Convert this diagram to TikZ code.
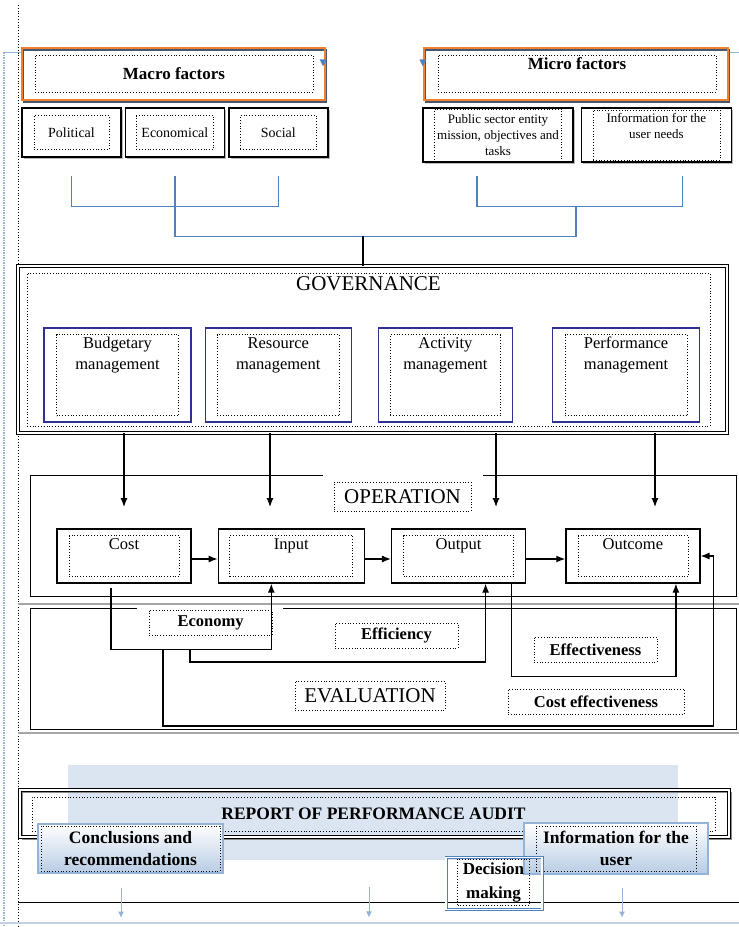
\documentclass[tikz,border=0pt]{standalone}
\usepackage{fontspec}
\setmainfont{Liberation Serif}
\usetikzlibrary{positioning, arrows.meta, shadows}

\definecolor{orangeline}{RGB}{240,128,48}
\definecolor{slate}{RGB}{70,88,112}
\definecolor{linkblue}{RGB}{79,129,189}
\definecolor{mgmtblue}{RGB}{46,49,146}
\definecolor{paleblue}{RGB}{219,229,241}
\definecolor{gradblue}{RGB}{184,204,228}
\definecolor{gradline}{RGB}{149,179,215}
\definecolor{rulegrey}{RGB}{165,165,165}

\tikzset{
  factorbox/.style={draw=orangeline, line width=1.3pt,
    general shadow={draw=slate, line width=1.3pt, shadow xshift=1.5pt, shadow yshift=-2pt}},
  outbox/.style={draw, line width=1.4pt, fill=white,
    drop shadow={shadow xshift=2pt, shadow yshift=-2pt, fill=black!45, opacity=0.6}},
  opbox/.style={draw, line width=1.3pt, fill=white},
  mgmtbox/.style={draw=mgmtblue, line width=1.2pt},
  dotbox/.style={draw, dotted, line width=0.8pt, align=center, inner sep=0pt},
  toptext/.style={anchor=north, inner sep=3pt, align=center},
  gradbox/.style={draw=gradline, line width=1.2pt, top color=white, bottom color=gradblue},
  link/.style={draw=linkblue, line width=1.4pt},
  conn/.style={line width=1.2pt},
  flow/.style={line width=1.2pt, -{Latex[length=9pt,width=7pt]}},
  paleflow/.style={draw=gradline, line width=0.8pt, -{Latex[length=6pt,width=6pt]}},
  headfont/.style={font=\bfseries\fontsize{17}{20}\selectfont},
  titlefont/.style={font=\fontsize{21}{24}\selectfont},
  smallfont/.style={font=\fontsize{14}{17}\selectfont},
  tinyfont/.style={font=\fontsize{13}{16}\selectfont},
  midfont/.style={font=\fontsize{16.5}{21}\selectfont},
  evfont/.style={font=\bfseries\fontsize{16.5}{20}\selectfont},
  repfont/.style={font=\bfseries\fontsize{17.5}{22}\selectfont},
}

\begin{document}
\begin{tikzpicture}[x=1pt, y=-1pt]
\useasboundingbox (0,0) rectangle (739,927);

% page rules
\draw[dotted, line width=0.8pt] (18,5) -- (18,927);
\draw[gradline, densely dotted, line width=1.5pt] (4,52) -- (4,927);
\draw[gradline] (3,52) -- (22,52);
\draw[gradline] (728,52) -- (739,52);
\draw[rulegrey, line width=1.2pt] (18,604) -- (739,604);
\draw[rulegrey, line width=1.2pt] (18,733) -- (739,733);
\draw[gradline!60, line width=1.2pt] (0,923) -- (739,923);

% factors
\node[factorbox, minimum width=303pt, minimum height=52pt] (macro) at (173.5,74) {};
\node[dotbox, minimum width=278pt, minimum height=37pt, headfont] (macrot) at (174,73.5) {Macro factors};
\node[factorbox, minimum width=304pt, minimum height=52pt] (micro) at (576,74) {};
\node[dotbox, minimum width=278pt, minimum height=37pt, label={[toptext, headfont]north:Micro factors}] (microt) at (577,73.5) {};
\fill[linkblue] ([xshift=-6pt,yshift=-12pt]macro.north east) -- ++(7,0) -- ++(-3.5,7) -- cycle;
\fill[linkblue] ([xshift=-4pt,yshift=-12pt]micro.north west) -- ++(7,0) -- ++(-3.5,7) -- cycle;

\node[outbox, minimum width=99pt, minimum height=49pt] (pol) at (71.5,132.5) {};
\node[outbox, minimum width=99pt, minimum height=49pt, right=3pt of pol] (eco) {};
\node[outbox, minimum width=99pt, minimum height=49pt, right=3pt of eco] (soc) {};
\node[dotbox, minimum width=75pt, minimum height=34pt, smallfont] (polt) at (pol) {Political};
\node[dotbox, minimum width=77pt, minimum height=34pt, smallfont] (ecot) at (eco) {Economical};
\node[dotbox, minimum width=76pt, minimum height=34pt, smallfont] (soct) at (soc) {Social};

\node[outbox, minimum width=150pt, minimum height=54pt] (pub) at (498,135) {};
\node[outbox, minimum width=150pt, minimum height=54pt, right=7pt of pub] (info) {};
\node[dotbox, minimum width=127pt, minimum height=52pt, tinyfont] (pubt) at (pub) {Public sector entity\\mission, objectives and\\tasks};
\node[dotbox, minimum width=127pt, minimum height=50pt, label={[toptext, tinyfont, inner sep=4pt]north:Information for the\\user needs}] (infot) at (info) {};

\draw[link] ([yshift=-18pt]pol.south) -- ++(0,31) -| ([yshift=-18pt]soc.south);
\draw[link] ([xshift=-21pt,yshift=-13pt]pub.south) -- ++(0,31) -| ([xshift=26pt,yshift=-13pt]info.south);
\draw[link] ([yshift=-18pt]eco.south) |- ([xshift=78pt,yshift=-74pt]pub.south) -- ++(0,-30);
\coordinate (join) at (363,236);

% governance
\node[draw, double, double distance=1.6pt, line width=0.8pt, minimum width=709pt, minimum height=167pt] (gov) at (372.5,349.5) {};
\node[dotbox, minimum width=683pt, minimum height=153pt, label={[toptext, inner sep=4pt, titlefont]north:GOVERNANCE}] (govt) at (368.5,349.5) {};
\draw[conn] (join) -- (join |- gov.north);

\node[mgmtbox, minimum width=147pt, minimum height=94pt] (bud) at (117.5,375) {};
\node[mgmtbox, minimum width=146pt, minimum height=94pt, right=13pt of bud] (res) {};
\node[mgmtbox, minimum width=134pt, minimum height=94pt, right=26pt of res] (act) {};
\node[mgmtbox, minimum width=147pt, minimum height=94pt, right=39pt of act] (perf) {};
\node[dotbox, minimum width=122pt, minimum height=81pt, label={[toptext, midfont]north:Budgetary\\management}] (budt) at (bud) {};
\node[dotbox, minimum width=122pt, minimum height=81pt, label={[toptext, midfont]north:Resource\\management}] (rest) at (res) {};
\node[dotbox, minimum width=110pt, minimum height=81pt, label={[toptext, midfont]north:Activity\\management}] (actt) at (act) {};
\node[dotbox, minimum width=122pt, minimum height=81pt, label={[toptext, midfont]north:Performance\\management}] (perft) at (perf) {};

% operation
\coordinate (a1) at (124,507);
\coordinate (a2) at (270,507);
\coordinate (a3) at (496,507);
\coordinate (a4) at (655,507);
\path[flow] (a1 |- gov.south) edge (a1)
            (a2 |- gov.south) edge (a2)
            (a3 |- gov.south) edge (a3)
            (a4 |- gov.south) edge (a4);

\node[minimum width=705pt, minimum height=120pt] (op) at (383.5,536) {};
\draw[conn] ([xshift=292pt]op.north west) -- (op.north west) -- (op.south west)
  -- (op.south east) -- (op.north east) -- ([xshift=-253pt]op.north east);
\node[dotbox, minimum width=137pt, minimum height=29pt, titlefont] (opt) at (402.5,496.5) {OPERATION};

\node[opbox, minimum width=134pt, minimum height=54pt] (cost) at (124,556) {};
\node[opbox, minimum width=146pt, minimum height=54pt, right=26pt of cost] (inp) {};
\node[opbox, minimum width=134pt, minimum height=54pt, right=26pt of inp] (outp) {};
\node[opbox, minimum width=134pt, minimum height=54pt, right=39pt of outp] (outc) {};
\node[dotbox, minimum width=110pt, minimum height=41pt, label={[toptext, midfont]north:Cost}] (costt) at (cost) {};
\node[dotbox, minimum width=123pt, minimum height=41pt, label={[toptext, midfont]north:Input}] (inpt) at (inp) {};
\node[dotbox, minimum width=110pt, minimum height=41pt, label={[toptext, midfont]north:Output}] (outpt) at (outp) {};
\node[dotbox, minimum width=110pt, minimum height=41pt, label={[toptext, midfont]north:Outcome}] (outct) at (outc) {};

\path[flow] ([yshift=-3pt]cost.east) edge ([yshift=-3pt]inp.west)
            ([yshift=-3pt]inp.east) edge ([yshift=-3pt]outp.west)
            ([yshift=-3pt]outp.east) edge ([yshift=-3pt]outc.west);

% evaluation
\node[minimum width=705pt, minimum height=120pt] (ev) at (383.5,669) {};
\draw[conn] ([xshift=106pt]ev.north west) -- (ev.north west) -- (ev.south west)
  -- (ev.south east) -- (ev.north east) -- ([xshift=-453pt]ev.north east);

\node[dotbox, minimum width=123pt, minimum height=25pt, evfont] (econ) at (210.5,622.5) {Economy};
\node[dotbox, minimum width=123pt, minimum height=25pt, evfont] (effi) at (396.5,635.5) {Efficiency};
\node[dotbox, minimum width=123pt, minimum height=25pt, evfont] (effe) at (595.5,649.5) {Effectiveness};
\node[dotbox, minimum width=150pt, minimum height=29pt, titlefont] (evt) at (370,695.5) {EVALUATION};
\node[dotbox, minimum width=176pt, minimum height=25pt, evfont] (costeff) at (596,701.5) {Cost effectiveness};

\coordinate (ec) at (163,649);
\coordinate (ef) at (190,649);
\draw[flow] ([xshift=-13pt,yshift=-4pt]cost.south) -- ++(0,62) -| ([xshift=-20pt]inp.south);
\draw[flow] (ef) -- ++(0,13) -| ([xshift=27pt]outp.south);
\draw[flow] ([xshift=53pt]outp.south) -- ++(0,93) -| ([xshift=43pt]outc.south);
\draw[flow] (ec) -- ++(0,77) -| ([xshift=13pt]outc.east) -- (outc.east);

% report
\fill[paleblue] (68,765) rectangle (678,860);
\node[draw, double, double distance=1.6pt, line width=0.8pt, minimum width=709pt, minimum height=47pt,
  general shadow={draw=black!45, line width=1pt, shadow xshift=2pt, shadow yshift=-2pt}] (rep) at (374.5,813.5) {};
\node[dotbox, minimum width=683pt, minimum height=34pt, repfont] (rept) at (373.5,814) {REPORT OF PERFORMANCE AUDIT};

\draw[line width=1pt] (18,902) -- (739,902);

\node[gradbox, minimum width=185pt, minimum height=49pt] (concl) at (130.5,848.5) {};
\node[dotbox, minimum width=179pt, minimum height=45pt, repfont] (conclt) at (concl) {Conclusions and\\recommendations};
\node[gradbox, minimum width=184pt, minimum height=51pt] (user) at (616,848.5) {};
\node[dotbox, minimum width=160pt, minimum height=45pt, repfont] (usert) at (user) {Information for the\\user};
\node[draw=linkblue, double=white, double distance=1.2pt, line width=0.9pt, minimum width=96pt, minimum height=52pt] (dec) at (494,883.5) {};
\node[dotbox, minimum width=72pt, minimum height=46pt, font=\bfseries\fontsize{17}{24}\selectfont] (dect) at (493.5,882) {Decision\\making};

\draw[paleflow] ([xshift=-9.5pt,yshift=-14pt]concl.south) -- ++(0,30);
\draw[paleflow] ([xshift=-5.5pt,yshift=-50pt]rep.south) -- ++(0,30);
\draw[paleflow] ([xshift=6pt,yshift=-13pt]user.south) -- ++(0,30);
\end{tikzpicture}
\end{document}
